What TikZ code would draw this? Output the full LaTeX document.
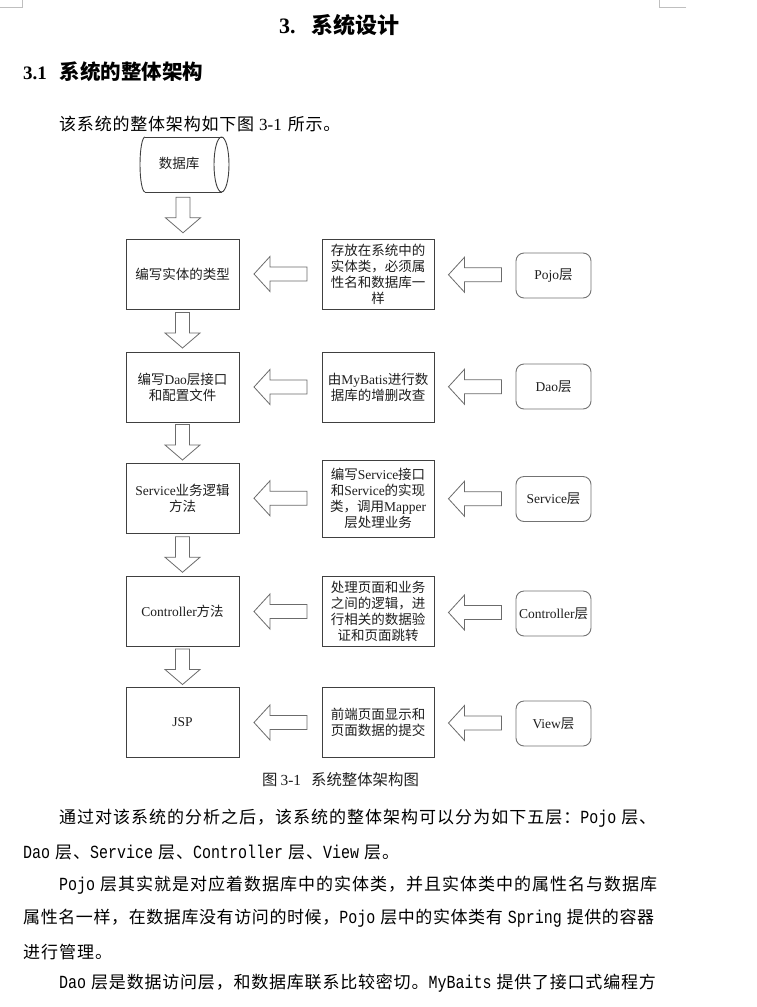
\documentclass[tikz,border=0pt]{standalone}
\usepackage{fontspec}
\setmainfont{Liberation Serif}
\newfontfamily\zh{Noto Sans CJK SC}
\newfontfamily\zhA{Noto Sans CJK SC}[LetterSpace=3.5]
\newfontfamily\zhB{Noto Sans CJK SC}[LetterSpace=4.7]
\newfontfamily\zhC{Noto Sans CJK SC}[LetterSpace=5.9]
\newfontfamily\tm{Liberation Serif}
\newfontfamily\mo{Liberation Mono}[FakeStretch=0.81]
\newcommand\T[1]{{\tm #1}}
\newcommand\M[1]{{\mo\fontsize{18.5pt}{20pt}\selectfont #1}}
\usetikzlibrary{calc}
\definecolor{boxc}{gray}{0.25}
\definecolor{rndc}{gray}{0.45}
\definecolor{arrc}{gray}{0.42}
\definecolor{txtc}{gray}{0.12}
\definecolor{markc}{gray}{0.75}
\tikzset{
  dfont/.style={font=\zh\fontsize{13.5pt}{16pt}\selectfont},
  lbox/.style={draw=boxc, line width=0.9pt, minimum width=113pt, minimum height=70pt, inner sep=0pt, align=center, text=txtc, dfont},
  mbox/.style={draw=boxc, line width=0.9pt, minimum width=112pt, minimum height=70pt, inner sep=0pt, align=center, text=txtc, dfont},
  rbox/.style={draw=rndc, line width=0.9pt, rounded corners=8pt, minimum width=75pt, minimum height=45pt, inner sep=0pt, align=center, text=txtc, dfont},
  arrowline/.style={draw=arrc, line width=0.8pt, fill=white, line join=miter},
  bodyline/.style={anchor=west, inner sep=0pt, text=black},
  pics/leftblk/.style={code={\draw[arrowline] (-26.5,0) -- (-10.5,-17.5) -- (-10.5,-7) -- (26.5,-7) -- (26.5,7) -- (-10.5,7) -- (-10.5,17.5) -- cycle;}},
  pics/downblk/.style={code={\draw[arrowline] (0,17.5) -- (-17.5,2.5) -- (-7,2.5) -- (-7,-18) -- (7,-18) -- (7,2.5) -- (17.5,2.5) -- cycle;}}
}
\begin{document}
\begin{tikzpicture}[x=1pt,y=-1pt]
\useasboundingbox (0,0) rectangle (757,1007);
\fill[white] (0,0) rectangle (757,1007);
% page corner marks
\draw[markc, line width=0.8pt] (0,7) -- (22,7) -- (22,0);
\draw[markc, line width=0.8pt] (686,7) -- (659,7) -- (659,0);
% headings
\node[bodyline] (title) at (279,25) {\fontsize{22pt}{26pt}\selectfont\bfseries\T{3.}\hspace{16pt}{\zh 系统设计}};
\node[bodyline] (sec) at (23,72) {\fontsize{19pt}{24pt}\selectfont\bfseries\T{3.1}\hspace{13pt}{\fontsize{20.5pt}{24pt}\selectfont\zh 系统的整体架构}};
\node[bodyline] (intro) at (59,124) {\fontsize{17pt}{20pt}\selectfont{\zhB 该系统的整体架构如下图}\hspace{5pt}\T{3-1}\hspace{6pt}{\zhB 所示。}};
% database
\draw[boxc, line width=0.9pt] (145,137) -- (221.5,137);
\draw[boxc, line width=0.9pt] (145,192) -- (221.5,192);
\draw[boxc, line width=0.9pt] (145,137) arc[start angle=270, end angle=90, x radius=5, y radius=27.5];
\draw[boxc, line width=0.9pt] (221.5,164.5) ellipse[x radius=7.5, y radius=27.5];
\node[dfont, text=txtc] (db) at (179,163) {数据库};
\coordinate (dbb) at (183.5,192);
% left column
\node[lbox] (l1) at (182.5,274) {编写实体的类型};
\node[lbox] (l2) at (182.5,387) {编写\T{Dao}层接口\\和配置文件};
\node[lbox] (l3) at (182.5,498) {\T{Service}业务逻辑\\方法};
\node[lbox] (l4) at (182.5,611.5) {\T{Controller}方法};
\node[lbox] (l5) at (182.5,722.5) {\T{JSP}};
% middle column
\node[mbox] (m1) at (378,274) {存放在系统中的\\实体类，必须属\\性名和数据库一\\样};
\node[mbox] (m2) at (378,387) {由\T{MyBatis}进行数\\据库的增删改查};
\node[mbox, minimum height=77pt] (m3) at (378,498.5) {编写\T{Service}接口\\和\T{Service}的实现\\类，调用\T{Mapper}\\层处理业务};
\node[mbox] (m4) at (378,611.5) {处理页面和业务\\之间的逻辑，进\\行相关的数据验\\证和页面跳转};
\node[mbox] (m5) at (378,722.5) {前端页面显示和\\页面数据的提交};
% right column
\node[rbox] (r1) at (553.5,275.5) {\T{Pojo}层};
\node[rbox] (r2) at (553.5,386.5) {\T{Dao}层};
\node[rbox] (r3) at (553.5,499) {\T{Service}层};
\node[rbox] (r4) at (553.5,613.5) {\T{Controller}层};
\node[rbox] (r5) at (553.5,723.5) {\T{View}层};
% down arrows
\pic at ($(dbb)!0.5!(l1.north)$) {downblk};
\pic at ($(l1.south)!0.5!(l2.north)$) {downblk};
\pic at ($(l2.south)!0.5!(l3.north)$) {downblk};
\pic at ($(l3.south)!0.5!(l4.north)$) {downblk};
\pic at ($(l4.south)!0.5!(l5.north)$) {downblk};
% left arrows
\foreach \i in {1,...,5}{
  \pic at ($(l\i.east)!0.5!(m\i.west)$) {leftblk};
  \pic at ($(m\i.east)!0.5!(r\i.west)$) {leftblk};
}
% caption
\node[bodyline, text=txtc] (cap) at (262,780) {\fontsize{15.4pt}{18pt}\selectfont{\zh 图}\hspace{3pt}\T{3-1}\hspace{10pt}{\zh 系统整体架构图}};
% body text
\node[bodyline] (b1) at (59,818) {\fontsize{17pt}{20pt}\selectfont\zhC 通过对该系统的分析之后，该系统的整体架构可以分为如下五层：\M{Pojo}\hspace{5pt}层、};
\node[bodyline] (b2) at (23,853) {\fontsize{17pt}{20pt}\selectfont\zhC \M{Dao}\hspace{5pt}层、\M{Service}\hspace{5pt}层、\M{Controller}\hspace{5pt}层、\M{View}\hspace{5pt}层。};
\node[bodyline] (b3) at (59,885) {\fontsize{17pt}{20pt}\selectfont\zhC \M{Pojo}\hspace{5pt}层其实就是对应着数据库中的实体类，并且实体类中的属性名与数据库};
\node[bodyline] (b4) at (23,918) {\fontsize{17pt}{20pt}\selectfont\zhA 属性名一样，在数据库没有访问的时候，\M{Pojo}\hspace{5pt}层中的实体类有\hspace{5pt}\M{Spring}\hspace{5pt}提供的容器};
\node[bodyline] (b5) at (23,952) {\fontsize{17pt}{20pt}\selectfont\zhC 进行管理。};
\node[bodyline] (b6) at (59,983) {\fontsize{17pt}{20pt}\selectfont\zhB \M{Dao}\hspace{5pt}层是数据访问层，和数据库联系比较密切。\M{MyBaits}\hspace{5pt}提供了接口式编程方};
\end{tikzpicture}
\end{document}
